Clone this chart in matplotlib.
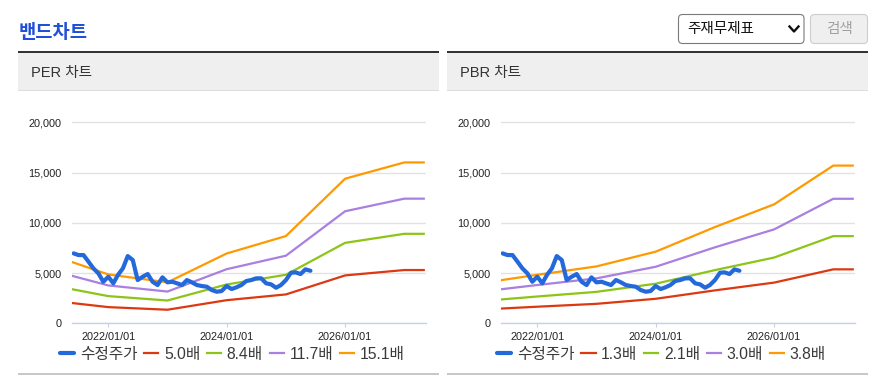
import numpy as np
import pandas as pd
import matplotlib
matplotlib.use('Agg')
import matplotlib.pyplot as plt
import matplotlib.dates as mdates
from matplotlib.patches import Rectangle, FancyBboxPatch
from matplotlib.lines import Line2D

plt.rcParams['font.family'] = ['Liberation Sans', 'Noto Sans CJK KR']

W, H = 880, 378

# band anchor dates (start, yearly, end)
band_dates = pd.to_datetime(['2021-05-24', '2022-01-01', '2023-01-01', '2024-01-01',
                             '2025-01-01', '2026-01-01', '2027-01-01', '2027-05-01'])

per_labels = ['5.0배', '8.4배', '11.7배', '15.1배']
per_5_0 = [2015, 1610, 1350, 2300, 2875, 4765, 5300, 5300]
per_8_4 = [3385, 2705, 2268, 3864, 4830, 8005, 8904, 8904]
per_11_7 = [4715, 3767, 3159, 5382, 6728, 11150, 12402, 12402]
per_15_1 = [6085, 4862, 4077, 6946, 8683, 14390, 16006, 16006]

pbr_labels = ['1.3배', '2.1배', '3.0배', '3.8배']
pbr_1_3 = [1469, 1651, 1937, 2438, 3276, 4050, 5369, 5369]
pbr_2_1 = [2373, 2667, 3129, 3938, 5292, 6542, 8673, 8673]
pbr_3_0 = [3390, 3810, 4470, 5625, 7560, 9345, 12390, 12390]
pbr_3_8 = [4294, 4826, 5662, 7125, 9576, 11837, 15694, 15694]

# adjusted price, monthly
price_dates = pd.date_range('2021-06-01', '2025-06-01', freq='MS')
price = [6958, 6789, 6789, 6123, 5467, 4970, 4135, 4632, 3976, 4801,
         5467, 6690, 6294, 4304, 4632, 4900, 4135, 3807, 4572, 4075,
         4135, 3976, 3807, 4304, 4075, 3807, 3708, 3638, 3310, 3141,
         3211, 3708, 3409, 3578, 3807, 4205, 4304, 4473, 4473, 3976,
         3877, 3539, 3807, 4304, 5030, 5069, 4900, 5368, 5228]
price_label = '수정주가'

xticks = pd.to_datetime(['2022-01-01', '2024-01-01', '2026-01-01'])
yticks = [0, 5000, 10000, 15000, 20000]

band_colors = ['#dc3912', '#8cc417', '#a97fe0', '#ff9900']
price_color = '#2369dc'
axis_color = '#c3d2e6'


fig = plt.figure(figsize=(W / 100, H / 100), dpi=100)

# page decoration layer, pixel coords
bg = fig.add_axes([0, 0, 1, 1], zorder=-1)
bg.set_xlim(0, W), bg.set_ylim(H, 0)
bg.axis('off')

bg.text(19, 33, '밴드차트', fontsize=13.5, fontweight='bold', color='#2150d8',
        va='center', ha='left')

# select box + button
bg.add_patch(FancyBboxPatch((678.5, 14.5), 125.5, 29, boxstyle='round,pad=0,rounding_size=4',
                            fc='white', ec='#7a7a7a', lw=0.8))
bg.text(687, 29.5, '주재무제표', fontsize=10.5, color='#111', va='center', ha='left')
bg.add_line(Line2D([789.5, 794, 798.5], [26.5, 31.5, 26.5], color='#111', lw=1.7))
bg.add_patch(FancyBboxPatch((810.5, 14.5), 57, 29, boxstyle='round,pad=0,rounding_size=4',
                            fc='#efefef', ec='#cdcdcd', lw=0.8))
bg.text(839, 29.5, '검색', fontsize=10.5, color='#a0a0a0', va='center', ha='center')


def draw_panel(x0, x1, title, ax_left, bands, labels):
    # header
    bg.add_patch(Rectangle((x0, 51), x1 - x0, 2.3, fc='#333333', ec='none'))
    bg.add_patch(Rectangle((x0, 53.3), x1 - x0, 37, fc='#efefef', ec='none'))
    bg.add_patch(Rectangle((x0, 90), x1 - x0, 1, fc='#dddddd', ec='none'))
    bg.text(x0 + 13, 72.5, title, fontsize=10.5, color='#333', va='center', ha='left')
    bg.add_patch(Rectangle((x0, 373), x1 - x0, 2, fc='#c8c8c8', ec='none'))

    # plot area: 0 at y=323.3, 20000 at y=122.3
    top = 120.3
    ax = fig.add_axes([ax_left / W, 1 - 323.3 / H, 354 / W, (323.3 - top) / H])
    ax.set_facecolor('none')

    for vals, lab, c in zip(bands, labels, band_colors):
        ax.plot(band_dates, vals, color=c, lw=1.6, label=lab, solid_joinstyle='round')
    ax.plot(price_dates, price, color=price_color, lw=3, label=price_label,
            solid_joinstyle='round', solid_capstyle='round', zorder=5)

    ax.set_ylim(0, 20000 * (323.3 - top) / 201)
    ax.set_xlim(pd.Timestamp('2021-05-22'), pd.Timestamp('2027-05-15'))
    ax.set_yticks(yticks)
    ax.set_yticklabels(['{:,}'.format(v) for v in yticks])
    ax.set_xticks(xticks)
    ax.xaxis.set_major_formatter(mdates.DateFormatter('%Y/%m/%d'))
    ax.grid(axis='y', color='#e2e2e2', lw=1)
    ax.set_axisbelow(True)
    for s in ['top', 'right', 'left']:
        ax.spines[s].set_visible(False)
    ax.spines['bottom'].set_color(axis_color)
    ax.spines['bottom'].set_linewidth(1)
    ax.tick_params(axis='y', length=0, pad=7.5, labelsize=7.8, labelcolor='#222')
    ax.tick_params(axis='x', length=3, width=0.8, color=axis_color, pad=3,
                   labelsize=7.8, labelcolor='#222')

    h, l = ax.get_legend_handles_labels()
    h = [h[-1]] + h[:-1]
    l = [l[-1]] + l[:-1]
    cx = (x0 + x1) / 2 + 4
    ax.legend(h, l, loc='center', bbox_to_anchor=(cx / W, 1 - 354 / H),
              bbox_transform=fig.transFigure, ncol=5, frameon=False, fontsize=11.3,
              handlelength=0.9, handletextpad=0.35, columnspacing=0.45, borderpad=0,
              labelcolor='#3a3a3a')
    return ax


draw_panel(18, 439, 'PER 차트', 72, [per_5_0, per_8_4, per_11_7, per_15_1], per_labels)
draw_panel(447, 868, 'PBR 차트', 501, [pbr_1_3, pbr_2_1, pbr_3_0, pbr_3_8], pbr_labels)

fig.savefig('out.png', dpi=100)
